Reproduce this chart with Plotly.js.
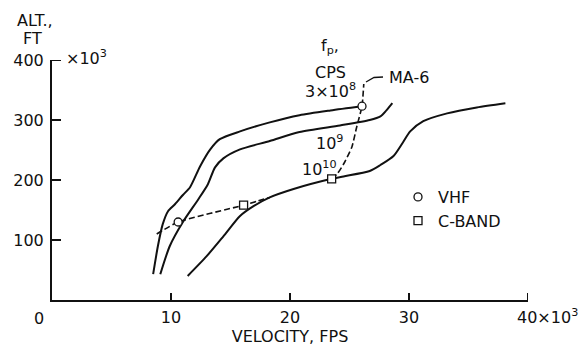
<!DOCTYPE html>
<html>
<head>
<meta charset="utf-8">
<script src="https://cdn.plot.ly/plotly-3.0.1.min.js"></script>
<style>html,body{margin:0;padding:0;background:#fff;}#chart{width:581px;height:346px;}</style>
</head>
<body>
<div id="chart"></div>
<script>
// Velocity in 10^3 ft/s, altitude in 10^3 ft
const vel3e8 = [8.5, 8.9, 9.3, 9.75, 10.35, 11.0, 11.6, 12.45, 13.3, 14.1, 15.8, 18.3, 20.8, 23.4, 26.05];
const alt3e8 = [43, 90, 126, 148, 160, 175, 188, 223, 251, 268, 281, 296, 308, 316, 323];

const vel1e9 = [9.1, 9.9, 11.0, 12.3, 13.1, 13.7, 14.4, 15.8, 18.3, 20.8, 24.2, 26.7, 27.6, 28.1, 28.6];
const alt1e9 = [43, 90, 130, 168, 193, 221, 236, 251, 265, 280, 291, 300, 306, 316, 328];

const vel1e10 = [11.4, 13.0, 14.4, 15.8, 16.9, 18.3, 20.3, 23.5, 24.5, 26.7, 27.6, 28.7, 29.5, 30.1, 31.2, 33.2, 35.7, 38.1];
const alt1e10 = [40, 73, 106, 140, 156, 171, 185, 202, 206, 215, 225, 240, 263, 281, 298, 311, 321, 328];

// MA-6 trajectory (dashed), gap where it follows the 10^10 curve
const velMA6 = [8.8, 10.6, 16.1, 17.3, 18.3, null, 23.5, 24.0, 24.6, 25.2, 25.6, 26.05, 26.2];
const altMA6 = [110, 130, 158, 165, 171, null, 202, 211, 230, 255, 288, 323, 360];

const velVHF = [10.6, 26.05];
const altVHF = [130, 323];
const velCB = [16.1, 23.5];
const altCB = [158, 202];

const xTickVals = [10, 20, 30, 40];
const xTickText = ['10', '20', '30', ''];
const yTickVals = [100, 200, 300, 400];
const yTickText = ['100', '200', '300', '400'];

const FONT = 'DejaVu Sans, sans-serif';
const INK = '#111';

const solid = (x, y) => ({x, y, type: 'scatter', mode: 'lines', showlegend: false, hoverinfo: 'skip',
  line: {color: INK, width: 2, shape: 'spline', smoothing: 0.7}});

const traces = [
  solid(vel3e8, alt3e8),
  solid(vel1e9, alt1e9),
  solid(vel1e10, alt1e10),
  {x: velMA6, y: altMA6, type: 'scatter', mode: 'lines', showlegend: false, connectgaps: false,
   line: {color: INK, width: 1.6, dash: '6px,3px', shape: 'spline', smoothing: 0.5}},
  {x: velVHF, y: altVHF, type: 'scatter', mode: 'markers', name: 'VHF',
   marker: {symbol: 'circle', size: 8, color: '#fff', line: {color: INK, width: 1.3}}},
  {x: velCB, y: altCB, type: 'scatter', mode: 'markers', name: 'C-BAND',
   marker: {symbol: 'square', size: 8, color: '#fff', line: {color: INK, width: 1.3}}}
];

// pixel helpers for label placement (plot area: x 52..528, y 60..300)
const px = p => (p - 52) / 476;
const py = p => (300 - p) / 240;
const ann = (text, x, y, opts = {}) => Object.assign({text, x: px(x), y: py(y), xref: 'paper', yref: 'paper',
  showarrow: false, font: {family: FONT, size: 16, color: INK}, xanchor: 'center', yanchor: 'middle'}, opts);

// inside tick marks drawn from the tick arrays through the axes' scales
const tickShapes = [
  ...xTickVals.map(v => ({type: 'line', xref: 'x', yref: 'paper', layer: 'above',
    x0: v, x1: v, y0: 0, y1: 7 / 240, line: {color: INK, width: 2}})),
  ...yTickVals.map(v => ({type: 'line', xref: 'paper', yref: 'y', layer: 'above',
    x0: 0, x1: 9 / 476, y0: v, y1: v, line: {color: INK, width: 2}}))
];

const layout = {
  width: 581, height: 346,
  margin: {l: 52, r: 53, t: 60, b: 46},
  paper_bgcolor: '#fff', plot_bgcolor: '#fff',
  font: {family: FONT, size: 16, color: INK},
  showlegend: true,
  legend: {x: px(398), y: py(180), xanchor: 'left', yanchor: 'top', bgcolor: 'rgba(0,0,0,0)',
    font: {family: FONT, size: 16, color: INK}, itemwidth: 30, tracegroupgap: 0},
  xaxis: {range: [0, 40], showgrid: false, zeroline: false, showline: true, linecolor: INK, linewidth: 2,
    ticks: '', tickmode: 'array', tickvals: xTickVals, ticktext: xTickText,
    ticklabelstandoff: 2, tickfont: {family: FONT, size: 16, color: INK},
    title: {text: 'VELOCITY, FPS', standoff: 2, font: {family: FONT, size: 16, color: INK}}},
  yaxis: {range: [0, 400], showgrid: false, zeroline: false, showline: true, linecolor: INK, linewidth: 2,
    ticks: '', tickmode: 'array', tickvals: yTickVals, ticktext: yTickText,
    ticklabelstandoff: 3, tickfont: {family: FONT, size: 16, color: INK}},
  annotations: [
    ann('ALT.,', 35, 21),
    ann('FT', 32, 38),
    ann('×10<sup>3</sup>', 64, 57, {xanchor: 'left'}),
    ann('0', 39, 318),
    ann('40×10<sup>3</sup>', 515, 316, {xanchor: 'left'}),
    ann('f<sub>p</sub>,', 330, 46),
    ann('CPS', 330, 72),
    ann('3×10<sup>8</sup>', 330, 90),
    ann('MA-6', 409, 78),
    ann('10<sup>9</sup>', 329, 142),
    ann('10<sup>10</sup>', 319, 168)
  ],
  shapes: [
    ...tickShapes,
    {type: 'path', xref: 'paper', yref: 'paper', path: `M ${px(366)} ${py(82)} L ${px(374)} ${py(77.5)} L ${px(383)} ${py(77)}`,
     line: {color: INK, width: 1.3}}
  ]
};

Plotly.newPlot('chart', traces, layout, {displayModeBar: false, staticPlot: true});
</script>
</body>
</html>
